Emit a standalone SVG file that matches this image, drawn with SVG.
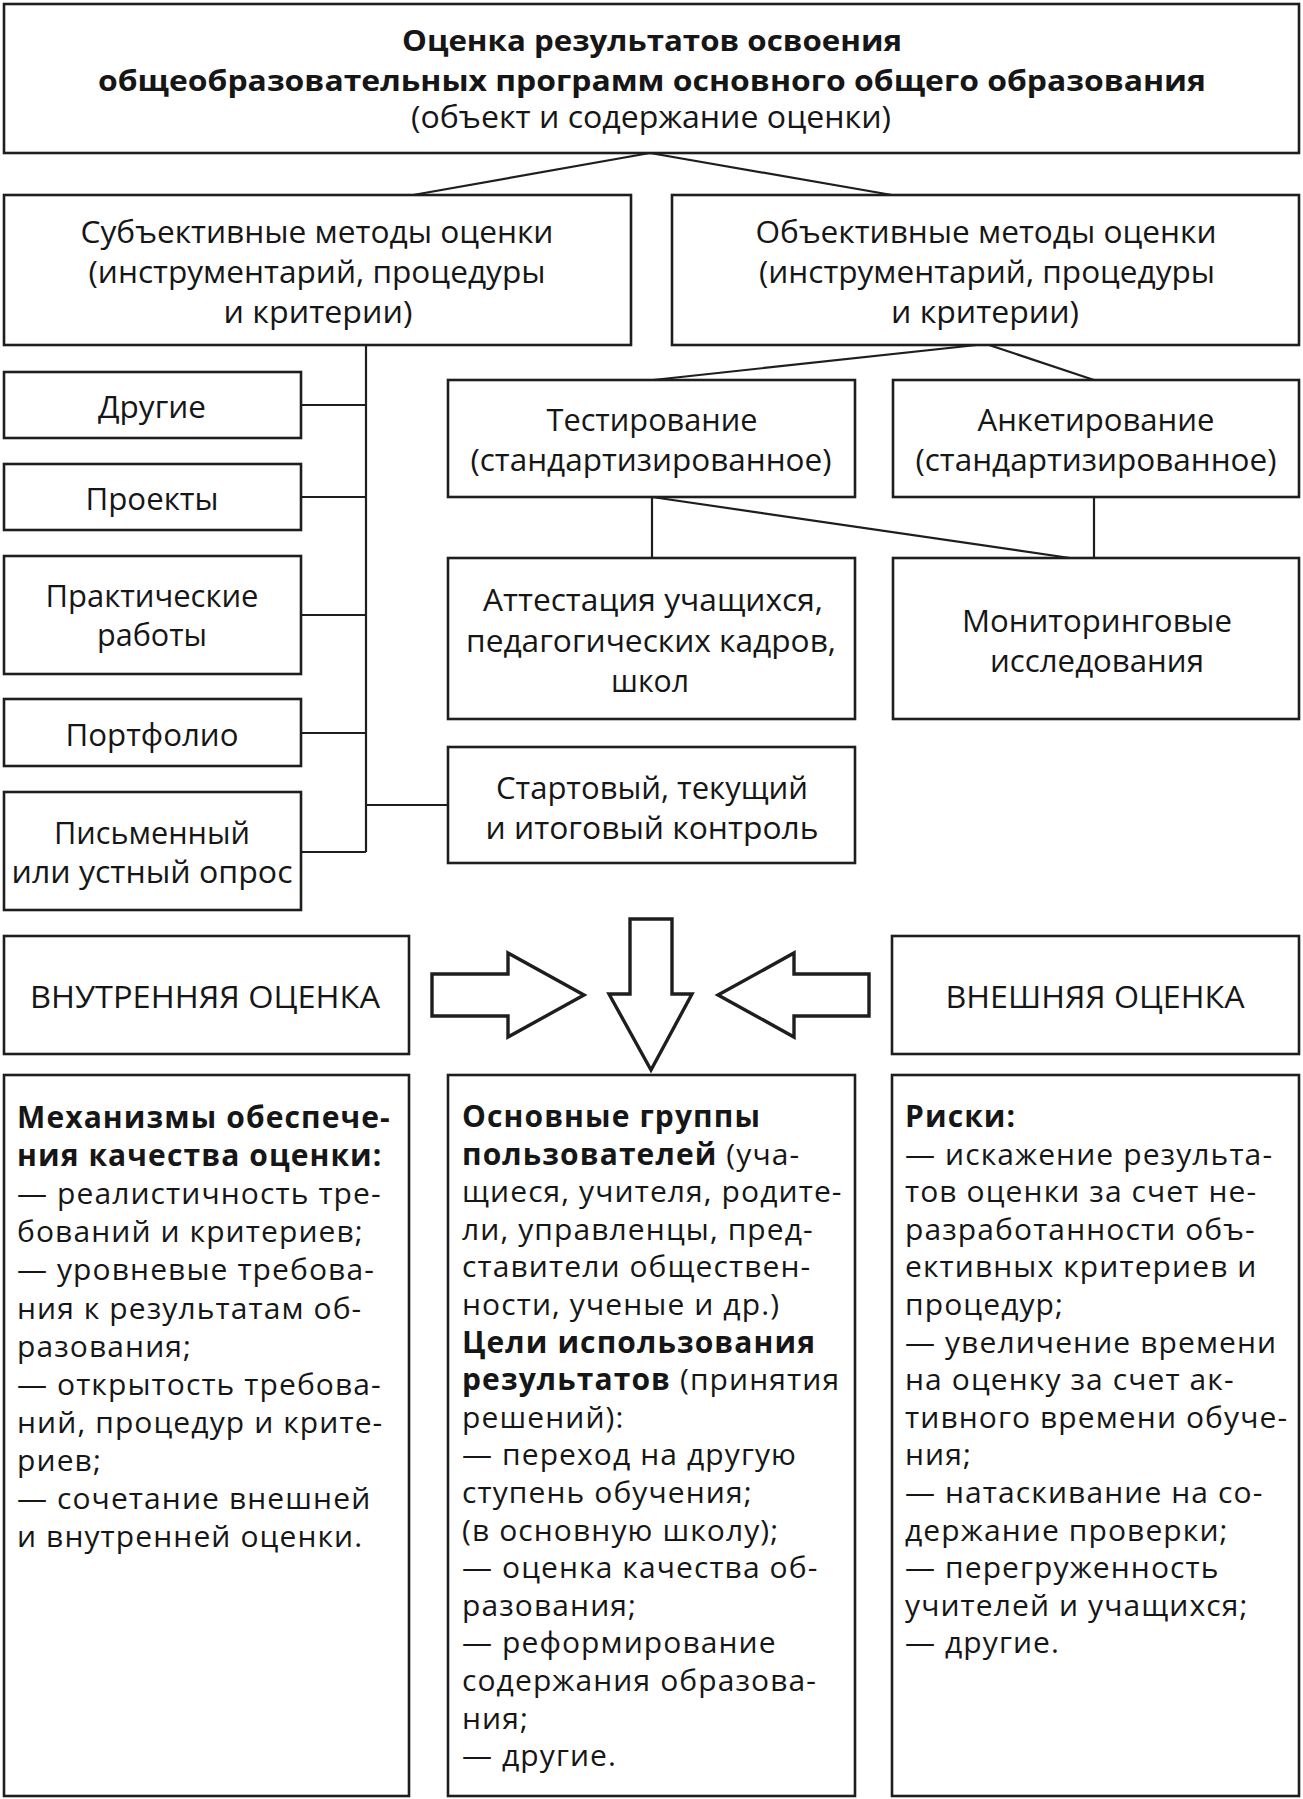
<svg xmlns="http://www.w3.org/2000/svg" width="1303" height="1799" viewBox="0 0 1303 1799">
<style>
.box{fill:#fff;stroke:#1e1e1e;stroke-width:2.6}
.ln{fill:none;stroke:#1e1e1e;stroke-width:2.2}
.arr{fill:#fff;stroke:#1e1e1e;stroke-width:3.4;stroke-linejoin:miter}
text{font-family:"Open Sans","DejaVu Sans",sans-serif;fill:#161616}
.c{font-size:31px;text-anchor:middle}
.h{font-size:29px;font-weight:bold;text-anchor:middle}
.t{font-size:30px;letter-spacing:1.1px}
.b{font-weight:bold}
</style>
<rect width="1303" height="1799" fill="#fff"/>
<g id="connectors">
<path class="ln" d="M650,153 L413,195 M650,153 L892,195"/>
<path class="ln" d="M366,344 V852 M301,405 H366 M301,497 H366 M301,615 H366 M301,733 H366 M301,852 H366 M366,805 H448"/>
<path class="ln" d="M986,344 L653,380 M986,344 L1094,380"/>
<path class="ln" d="M652,497 V558 M652,497 L1070,558 M1094,497 V558"/>
</g>
<g id="n_top"><rect class="box" x="4" y="4" width="1295" height="149"/>
<text class="h" x="652" y="51" textLength="500" lengthAdjust="spacingAndGlyphs">Оценка результатов освоения</text>
<text class="h" x="652" y="91" textLength="1108" lengthAdjust="spacingAndGlyphs">общеобразовательных программ основного общего образования</text>
<text class="c" x="651" y="128" textLength="480" lengthAdjust="spacingAndGlyphs">(объект и содержание оценки)</text></g>
<g id="n_subj"><rect class="box" x="4" y="195" width="627" height="150"/>
<text class="c" x="317" y="243" textLength="473" lengthAdjust="spacingAndGlyphs">Субъективные методы оценки</text>
<text class="c" x="317" y="283" textLength="457" lengthAdjust="spacingAndGlyphs">(инструментарий, процедуры</text>
<text class="c" x="318" y="323" textLength="189" lengthAdjust="spacingAndGlyphs">и критерии)</text></g>
<g id="n_obj"><rect class="box" x="672" y="195" width="627" height="150"/>
<text class="c" x="986" y="243" textLength="461" lengthAdjust="spacingAndGlyphs">Объективные методы оценки</text>
<text class="c" x="987" y="283" textLength="456" lengthAdjust="spacingAndGlyphs">(инструментарий, процедуры</text>
<text class="c" x="985" y="323" textLength="188" lengthAdjust="spacingAndGlyphs">и критерии)</text></g>
<g id="n_drugie"><rect class="box" x="4" y="372" width="297" height="66"/>
<text class="c" x="152" y="418" textLength="108" lengthAdjust="spacingAndGlyphs">Другие</text></g>
<g id="n_proekty"><rect class="box" x="4" y="464" width="297" height="66"/>
<text class="c" x="152" y="510" textLength="133" lengthAdjust="spacingAndGlyphs">Проекты</text></g>
<g id="n_prakt"><rect class="box" x="4" y="556" width="297" height="118"/>
<text class="c" x="152" y="607" textLength="213" lengthAdjust="spacingAndGlyphs">Практические</text>
<text class="c" x="152" y="646" textLength="110" lengthAdjust="spacingAndGlyphs">работы</text></g>
<g id="n_portf"><rect class="box" x="4" y="699" width="297" height="67"/>
<text class="c" x="152" y="746" textLength="173" lengthAdjust="spacingAndGlyphs">Портфолио</text></g>
<g id="n_pism"><rect class="box" x="4" y="792" width="297" height="118"/>
<text class="c" x="152" y="844" textLength="196" lengthAdjust="spacingAndGlyphs">Письменный</text>
<text class="c" x="152" y="883" textLength="281" lengthAdjust="spacingAndGlyphs">или устный опрос</text></g>
<g id="n_test"><rect class="box" x="448" y="380" width="407" height="117"/>
<text class="c" x="652" y="431" textLength="211" lengthAdjust="spacingAndGlyphs">Тестирование</text>
<text class="c" x="651" y="471" textLength="361" lengthAdjust="spacingAndGlyphs">(стандартизированное)</text></g>
<g id="n_anket"><rect class="box" x="893" y="380" width="406" height="117"/>
<text class="c" x="1096" y="431" textLength="237" lengthAdjust="spacingAndGlyphs">Анкетирование</text>
<text class="c" x="1096" y="471" textLength="361" lengthAdjust="spacingAndGlyphs">(стандартизированное)</text></g>
<g id="n_attest"><rect class="box" x="448" y="558" width="407" height="161"/>
<text class="c" x="653" y="611" textLength="340" lengthAdjust="spacingAndGlyphs">Аттестация учащихся,</text>
<text class="c" x="651" y="652" textLength="370" lengthAdjust="spacingAndGlyphs">педагогических кадров,</text>
<text class="c" x="650" y="692" textLength="78" lengthAdjust="spacingAndGlyphs">школ</text></g>
<g id="n_monit"><rect class="box" x="893" y="558" width="406" height="161"/>
<text class="c" x="1097" y="632" textLength="270" lengthAdjust="spacingAndGlyphs">Мониторинговые</text>
<text class="c" x="1097" y="672" textLength="214" lengthAdjust="spacingAndGlyphs">исследования</text></g>
<g id="n_start"><rect class="box" x="448" y="747" width="407" height="116"/>
<text class="c" x="652" y="799" textLength="312" lengthAdjust="spacingAndGlyphs">Стартовый, текущий</text>
<text class="c" x="652" y="839" textLength="333" lengthAdjust="spacingAndGlyphs">и итоговый контроль</text></g>
<g id="n_vnutr"><rect class="box" x="4" y="936" width="405" height="118"/>
<text class="c" x="205" y="1008" textLength="350" lengthAdjust="spacingAndGlyphs">ВНУТРЕННЯЯ ОЦЕНКА</text></g>
<g id="n_vnesh"><rect class="box" x="892" y="936" width="407" height="118"/>
<text class="c" x="1095" y="1008" textLength="299" lengthAdjust="spacingAndGlyphs">ВНЕШНЯЯ ОЦЕНКА</text></g>
<g id="arrows">
<path class="arr" d="M432,974 H508 V953 L584,995 L508,1037 V1016 H432 Z"/>
<path class="arr" d="M630,919 H672 V994 H692 L651,1070 L609,994 H630 Z"/>
<path class="arr" d="M718,995 L794,953 V974 H869 V1016 H794 V1037 Z"/>
</g>
<g id="n_left"><rect class="box" x="4" y="1075" width="405" height="721"/>
<text class="t" x="17" y="1128"><tspan class="b">Механизмы обеспече-</tspan><tspan class="b" x="17" dy="38.1">ния качества оценки:</tspan><tspan x="17" dy="38.1">— реалистичность тре-</tspan><tspan x="17" dy="38.1">бований и критериев;</tspan><tspan x="17" dy="38.1">— уровневые требова-</tspan><tspan x="17" dy="38.1">ния к результатам об-</tspan><tspan x="17" dy="38.1">разования;</tspan><tspan x="17" dy="38.1">— открытость требова-</tspan><tspan x="17" dy="38.1">ний, процедур и крите-</tspan><tspan x="17" dy="38.1">риев;</tspan><tspan x="17" dy="38.1">— сочетание внешней</tspan><tspan x="17" dy="38.1">и внутренней оценки.</tspan></text></g>
<g id="n_mid"><rect class="box" x="448" y="1075" width="407" height="721"/>
<text class="t" x="462" y="1127"><tspan class="b">Основные группы</tspan><tspan x="462" dy="37.6"><tspan class="b">пользователей</tspan> (уча-</tspan><tspan x="462" dy="37.6">щиеся, учителя, родите-</tspan><tspan x="462" dy="37.6">ли, управленцы, пред-</tspan><tspan x="462" dy="37.6">ставители обществен-</tspan><tspan x="462" dy="37.6">ности, ученые и др.)</tspan><tspan class="b" x="462" dy="37.6">Цели использования</tspan><tspan x="462" dy="37.6"><tspan class="b">результатов</tspan> (принятия</tspan><tspan x="462" dy="37.6">решений):</tspan><tspan x="462" dy="37.6">— переход на другую</tspan><tspan x="462" dy="37.6">ступень обучения;</tspan><tspan x="462" dy="37.6">(в основную школу);</tspan><tspan x="462" dy="37.6">— оценка качества об-</tspan><tspan x="462" dy="37.6">разования;</tspan><tspan x="462" dy="37.6">— реформирование</tspan><tspan x="462" dy="37.6">содержания образова-</tspan><tspan x="462" dy="37.6">ния;</tspan><tspan x="462" dy="37.6">— другие.</tspan></text></g>
<g id="n_right"><rect class="box" x="892" y="1075" width="407" height="721"/>
<text class="t" x="905" y="1127"><tspan class="b">Риски:</tspan><tspan x="905" dy="37.6">— искажение результа-</tspan><tspan x="905" dy="37.6">тов оценки за счет не-</tspan><tspan x="905" dy="37.6">разработанности объ-</tspan><tspan x="905" dy="37.6">ективных критериев и</tspan><tspan x="905" dy="37.6">процедур;</tspan><tspan x="905" dy="37.6">— увеличение времени</tspan><tspan x="905" dy="37.6">на оценку за счет ак-</tspan><tspan x="905" dy="37.6">тивного времени обуче-</tspan><tspan x="905" dy="37.6">ния;</tspan><tspan x="905" dy="37.6">— натаскивание на со-</tspan><tspan x="905" dy="37.6">держание проверки;</tspan><tspan x="905" dy="37.6">— перегруженность</tspan><tspan x="905" dy="37.6">учителей и учащихся;</tspan><tspan x="905" dy="37.6">— другие.</tspan></text></g>
</svg>
